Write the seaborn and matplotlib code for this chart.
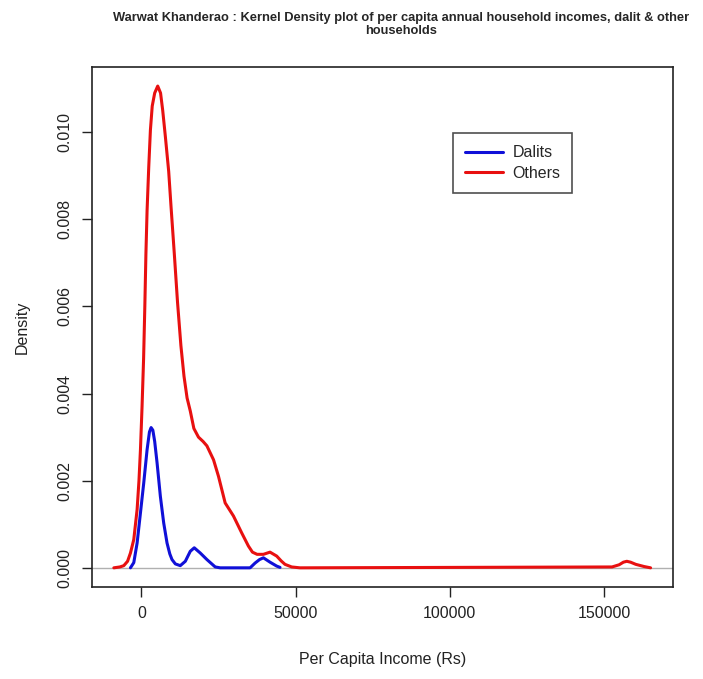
import seaborn as sns
import matplotlib.pyplot as plt
import pandas as pd

# Kernel density curves (income in Rs, density)
dalits_x = [-3560, -2480, -1400, -320, 750, 1830, 2600, 3130, 3700, 4300, 5070,
            6140, 7220, 8300, 9200, 9910, 11000, 12600, 14230, 15840, 17130,
            19080, 21230, 23930, 25540, 35240, 36860, 38300, 39550, 41700, 43860,
            44940]
dalits_y = [0.0, 0.00012, 0.00057, 0.00126, 0.00195, 0.00271, 0.00312, 0.00322,
            0.00316, 0.00290, 0.00241, 0.00164, 0.00103, 0.00057, 0.00032,
            0.00019, 0.00009, 0.00005, 0.00015, 0.00038, 0.00046, 0.00034,
            0.00019, 0.00002, 0.0, 0.0, 0.00011, 0.00019, 0.00023, 0.00013,
            0.00004, 0.00001]

others_x = [-8950, -7000, -5720, -4500, -3560, -2480, -1400, -800, -320, 200, 700,
            1100, 1450, 1830, 2370, 2910, 3500, 4300, 5280, 6200, 6900, 7760,
            8840, 9590, 10670, 11700, 12800, 13800, 14800, 15840, 17000, 18500,
            20000, 21230, 23380, 24990, 27150, 29840, 32530, 34690, 36000, 37500,
            39550, 41700, 43860, 45300, 46550, 48720, 51400, 152600, 154900,
            156300, 157400, 158600, 160300, 163000, 165100]
others_y = [0.0, 0.00002, 0.00005, 0.00015, 0.00034, 0.00065, 0.00134, 0.0020,
            0.00271, 0.0037, 0.0048, 0.0060, 0.0072, 0.0082, 0.0092, 0.01005,
            0.0106, 0.0109, 0.01106, 0.0109, 0.0105, 0.0099, 0.0091, 0.0083,
            0.0072, 0.0061, 0.0051, 0.0044, 0.0039, 0.0036, 0.0032, 0.0030,
            0.0029, 0.0028, 0.00248, 0.00210, 0.00149, 0.00119, 0.00080, 0.00050,
            0.00036, 0.00031, 0.00031, 0.00036, 0.00027, 0.00016, 0.00008,
            0.00002, 0.0, 0.00002, 0.00007, 0.00013, 0.00015, 0.00013, 0.00008,
            0.00003, 0.0]

x_ticks = [0, 50000, 100000, 150000]
y_ticks = [0.000, 0.002, 0.004, 0.006, 0.008, 0.010]

dalits = pd.DataFrame({"income": dalits_x, "density": dalits_y})
others = pd.DataFrame({"income": others_x, "density": others_y})

sns.set_style("white")
plt.rcParams["font.family"] = ["Liberation Sans", "DejaVu Sans"]

fig = plt.figure(figsize=(7.03, 6.79), dpi=100)
ax = fig.add_axes([0.131, 0.1355, 0.826, 0.766])

ax.axhline(0, color="#b0b0b0", linewidth=1)
sns.lineplot(data=others, x="income", y="density", ax=ax, color="#e81010",
             linewidth=2.2, label="Others", sort=False)
sns.lineplot(data=dalits, x="income", y="density", ax=ax, color="#1010d8",
             linewidth=2.2, label="Dalits", sort=False)

ax.set_xlim(-16000, 172300)
ax.set_ylim(-0.00044, 0.0115)
ax.set_xticks(x_ticks)
ax.set_xticklabels([str(v) for v in x_ticks])
ax.set_yticks(y_ticks)
ax.set_yticklabels([f"{v:.3f}" for v in y_ticks])
plt.setp(ax.get_yticklabels(), rotation=90, va="center")
ax.tick_params(axis="both", direction="out", length=7, width=1, colors="#222222",
               labelsize=11.5, pad=7, left=True, bottom=True)
for s in ax.spines.values():
    s.set_color("#222222")
    s.set_linewidth(1.2)

ax.set_xlabel("Per Capita Income (Rs)", fontsize=11.5, color="#222222", labelpad=22)
ax.set_ylabel("Density", fontsize=11.5, color="#222222", labelpad=20)

handles, labels = ax.get_legend_handles_labels()
leg = ax.legend(handles[::-1], labels[::-1], loc="upper left",
                bbox_to_anchor=(0.607, 0.888), fontsize=11.5, frameon=True,
                fancybox=False, edgecolor="#222222", handlelength=2.4,
                handletextpad=0.6, borderpad=0.75, labelspacing=0.35)
leg.get_frame().set_linewidth(1.2)

fig.text(0.57, 0.982, "Warwat Khanderao : Kernel Density plot of per capita annual household incomes, dalit & other\nhouseholds",
         ha="center", va="top", fontsize=9.3, fontweight="bold", linespacing=1.12)

fig.savefig("out.png", dpi=100)
